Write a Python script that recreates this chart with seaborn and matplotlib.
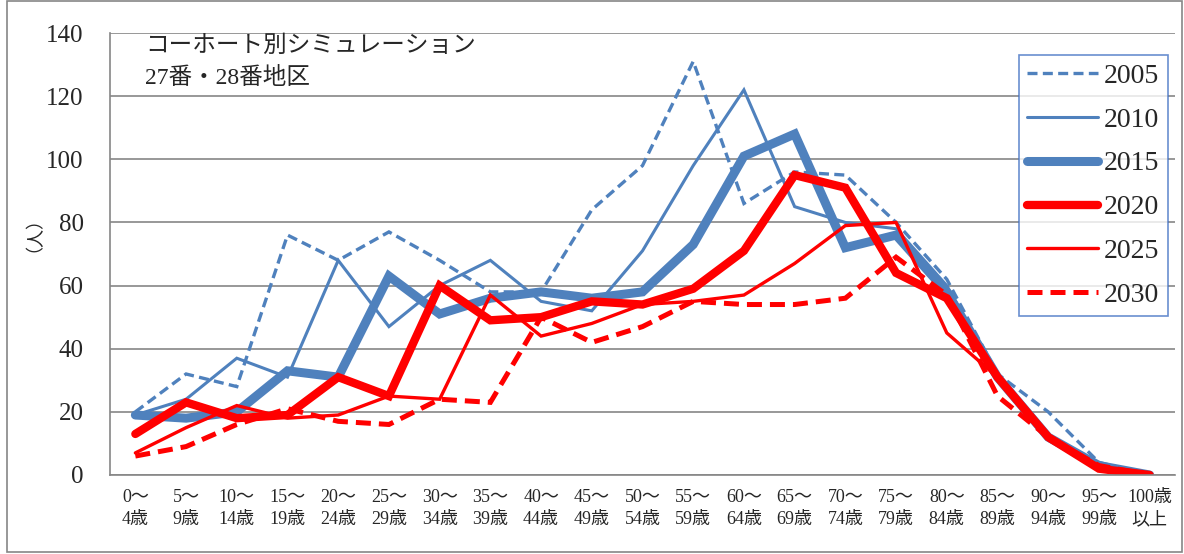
import matplotlib
matplotlib.use("Agg")
import matplotlib.pyplot as plt
import seaborn as sns
import pandas as pd
import numpy as np
from matplotlib.patches import Rectangle
from matplotlib.lines import Line2D

# Age groups (5-year cohorts)
ages = ["0～\n4歳", "5～\n9歳", "10～\n14歳", "15～\n19歳", "20～\n24歳", "25～\n29歳",
        "30～\n34歳", "35～\n39歳", "40～\n44歳", "45～\n49歳", "50～\n54歳", "55～\n59歳",
        "60～\n64歳", "65～\n69歳", "70～\n74歳", "75～\n79歳", "80～\n84歳", "85～\n89歳",
        "90～\n94歳", "95～\n99歳", "100歳\n以上"]

# Population by age group (persons)
pop_2005 = [20, 32, 28, 76, 68, 77, 68, 58, 58, 84, 98, 131, 86, 96, 95, 80, 62, 32, 20, 4, 0]
pop_2010 = [19, 24, 37, 31, 68, 47, 60, 68, 55, 52, 71, 98, 122, 85, 80, 78, 60, 31, 11, 3, 0]
pop_2015 = [19, 18, 20, 33, 31, 63, 51, 56, 58, 56, 58, 73, 101, 108, 72, 76, 58, 31, 12, 3, 0]
pop_2020 = [13, 23, 18, 19, 31, 25, 60, 49, 50, 55, 54, 59, 71, 95, 91, 64, 56, 31, 12, 2, 0]
pop_2025 = [7, 15, 22, 18, 19, 25, 24, 57, 44, 48, 54, 55, 57, 67, 79, 80, 45, 31, 12, 2, 0]
pop_2030 = [6, 9, 16, 21, 17, 16, 24, 23, 50, 42, 47, 55, 54, 54, 56, 69, 57, 25, 12, 3, 0]

years = ["2005", "2010", "2015", "2020", "2025", "2030"]
series = [pop_2005, pop_2010, pop_2015, pop_2020, pop_2025, pop_2030]

df = pd.concat([pd.DataFrame({"age": ages, "pop": vals, "year": y})
                for y, vals in zip(years, series)], ignore_index=True)

blue = "#4F81BD"
red = "#FF0000"
styles = {
    "2005": dict(color=blue, lw=2.4, ls=(0, (3.0, 1.6))),
    "2010": dict(color=blue, lw=2.2, ls="-"),
    "2015": dict(color=blue, lw=6.5, ls="-"),
    "2020": dict(color=red, lw=6.0, ls="-"),
    "2025": dict(color=red, lw=2.4, ls="-"),
    "2030": dict(color=red, lw=3.6, ls=(0, (3.0, 1.6))),
}

sns.set_theme(style="white")
serif = ["Liberation Serif", "Noto Sans CJK JP"]
plt.rcParams["font.family"] = serif

fig = plt.figure(figsize=(11.84, 5.54), dpi=100)
ax = fig.add_axes([0.0929, 0.1426, 0.8995, 0.7978])

for y in years:
    st = styles[y]
    sns.lineplot(data=df[df["year"] == y], x="age", y="pop", ax=ax, sort=False,
                 color=st["color"], linewidth=st["lw"], linestyle=st["ls"],
                 solid_joinstyle="miter", dash_joinstyle="miter", legend=False)

ax.set_xlim(-0.5, len(ages) - 0.5)
ax.set_ylim(0, 140)
ax.set_yticks(np.arange(0, 141, 20))
ax.set_xticks(range(len(ages)))
ax.set_xticklabels(ages, fontsize=13, linespacing=1.42)
ax.set_xticks(np.arange(-0.5, len(ages), 1.0), minor=True)
ax.tick_params(axis="x", which="major", length=0, pad=10)
ax.tick_params(axis="x", which="minor", length=7, color="#868686", width=1.2, direction="out")
ax.tick_params(axis="y", length=7, color="#868686", width=1.2, direction="out", labelsize=18, pad=12)
ax.set_xlabel("")
ax.set_ylabel("（人）", fontsize=13)
ax.yaxis.set_label_coords(-0.072, 0.565)

ax.grid(axis="y", color="#868686", lw=1.2)
ax.set_axisbelow(True)
for s in ["top", "right"]:
    ax.spines[s].set_visible(False)
for s in ["left", "bottom"]:
    ax.spines[s].set_color("#868686")
    ax.spines[s].set_linewidth(1.2)

ax.text(0.033, 0.971, "コーホート別シミュレーション", transform=ax.transAxes,
        fontsize=17, va="center", ha="left")
ax.text(0.033, 0.898, "27番・28番地区", transform=ax.transAxes,
        fontsize=17, va="center", ha="left")

handles = [Line2D([], [], color=styles[y]["color"], lw=styles[y]["lw"],
                  ls=styles[y]["ls"], solid_capstyle="round") for y in years]
leg = ax.legend(handles, years, loc="upper right", bbox_to_anchor=(0.993, 0.95),
                fontsize=20, frameon=True, fancybox=False, handlelength=2.55,
                handletextpad=0.2, labelspacing=0.66, borderpad=0.3, borderaxespad=0)
leg.get_frame().set_edgecolor("#4472C4")
leg.get_frame().set_linewidth(1.2)

fig.patches.append(Rectangle((0.006, 0.004), 0.992, 0.994, transform=fig.transFigure,
                             fill=False, edgecolor="#868686", lw=1.2))

fig.savefig("out.png", dpi=100)
